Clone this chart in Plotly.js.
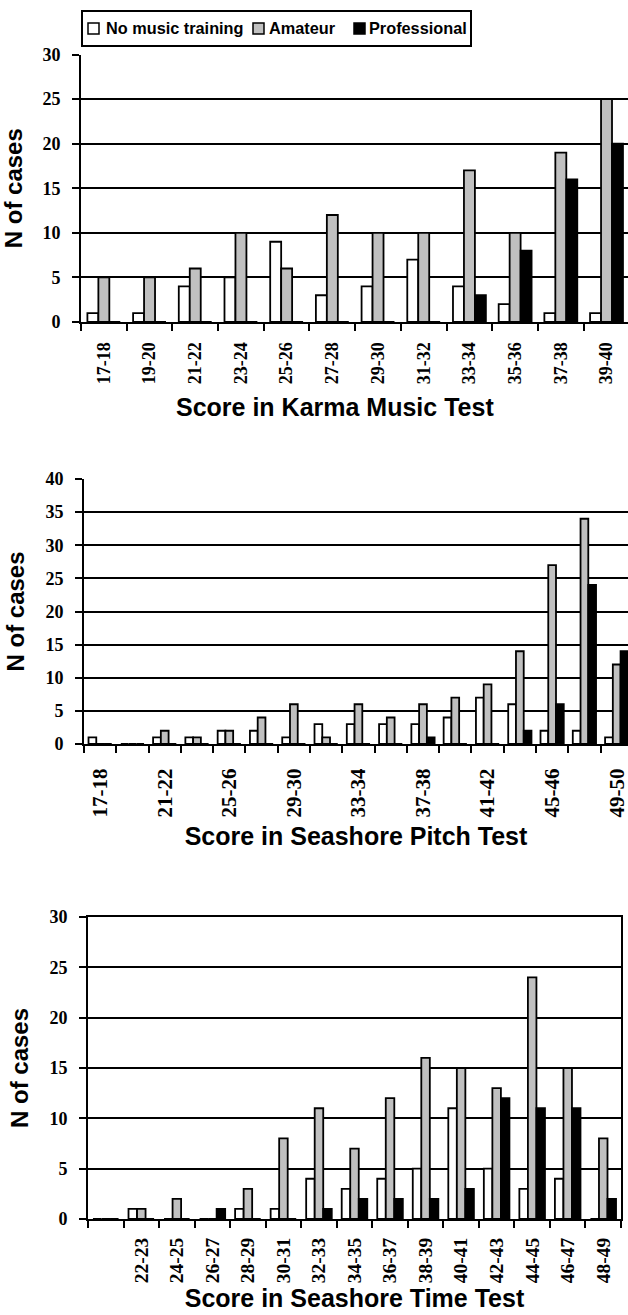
<!DOCTYPE html>
<html>
<head>
<meta charset="utf-8">
<script src="https://cdn.plot.ly/plotly-3.0.1.min.js"></script>
<style>
html,body{margin:0;padding:0;background:#fff;}
#chart{width:628px;height:1315px;}
</style>
</head>
<body>
<div id="chart"></div>
<script>
// ---------- DATA ----------
const seriesNames = ['No music training', 'Amateur', 'Professional'];

const karmaCategories = ['17-18','19-20','21-22','23-24','25-26','27-28','29-30','31-32','33-34','35-36','37-38','39-40'];
const karmaNone     = [1, 1, 4, 5, 9, 3, 4, 7, 4, 2, 1, 1];
const karmaAmateur  = [5, 5, 6, 10, 6, 12, 10, 10, 17, 10, 19, 25];
const karmaPro      = [0, 0, 0, 0, 0, 0, 0, 0, 3, 8, 16, 20];

const pitchCategories = ['17-18','19-20','21-22','23-24','25-26','27-28','29-30','31-32','33-34','35-36','37-38','39-40','41-42','43-44','45-46','47-48','49-50'];
const pitchTickLabels = ['17-18','','21-22','','25-26','','29-30','','33-34','','37-38','','41-42','','45-46','','49-50'];
const pitchNone     = [1, 0, 1, 1, 2, 2, 1, 3, 3, 3, 3, 4, 7, 6, 2, 2, 1];
const pitchAmateur  = [0, 0, 2, 1, 2, 4, 6, 1, 6, 4, 6, 7, 9, 14, 27, 34, 12];
const pitchPro      = [0, 0, 0, 0, 0, 0, 0, 0, 0, 0, 1, 0, 0, 2, 6, 24, 14];

const timeCategories = [' ','22-23','24-25','26-27','28-29','30-31','32-33','34-35','36-37','38-39','40-41','42-43','44-45','46-47','48-49'];
const timeNone      = [0, 1, 0, 0, 1, 1, 4, 3, 4, 5, 11, 5, 3, 4, 0];
const timeAmateur   = [0, 1, 2, 0, 3, 8, 11, 7, 12, 16, 15, 13, 24, 15, 8];
const timePro       = [0, 0, 0, 1, 0, 0, 1, 2, 2, 2, 3, 12, 11, 11, 2];

const axisTitles = {
  karma: 'Score in Karma Music Test',
  pitch: 'Score in Seashore Pitch Test',
  time: 'Score in Seashore Time Test',
  y: 'N of cases'
};

// ---------- STYLE ----------
const colors = ['#ffffff', '#c0c0c0', '#000000'];
const serif = 'Liberation Serif, Times New Roman, serif';
const sans = 'Liberation Sans, Arial, sans-serif';

function barTraces(cats, vals, xa, ya) {
  return vals.map((v, i) => ({
    type: 'bar',
    name: seriesNames[i],
    x: cats,
    y: v,
    xaxis: xa,
    yaxis: ya,
    showlegend: false,
    textposition: 'none',
    marker: { color: colors[i], line: { color: '#000', width: 1.8 } },
    hoverinfo: 'none'
  }));
}

const data = [
  ...barTraces(karmaCategories, [karmaNone, karmaAmateur, karmaPro], 'x', 'y'),
  ...barTraces(pitchCategories, [pitchNone, pitchAmateur, pitchPro], 'x2', 'y2'),
  ...barTraces(timeCategories, [timeNone, timeAmateur, timePro], 'x3', 'y3')
];

function xAxis(domain, range, anchor, title, tickSize, labelStandoff, standoff, mirror, extra) {
  return Object.assign({
    domain: domain,
    anchor: anchor,
    type: 'category',
    range: range,
    showgrid: false,
    showline: true,
    linecolor: '#000',
    linewidth: 2,
    mirror: mirror,
    ticks: 'outside',
    tickson: 'boundaries',
    ticklen: 7,
    tickwidth: 2,
    tickcolor: '#000',
    tickangle: -90,
    ticklabelstandoff: labelStandoff,
    tickfont: { family: serif, size: tickSize, weight: 'bold', color: '#000' },
    title: { text: title, standoff: standoff, font: { family: sans, size: 25, weight: 'bold', color: '#000' } },
    automargin: false,
    fixedrange: true
  }, extra || {});
}

function yAxis(domain, range, anchor, tickSize, mirror) {
  return {
    domain: domain,
    anchor: anchor,
    range: range,
    dtick: 5,
    tick0: 0,
    showgrid: true,
    gridcolor: '#000',
    gridwidth: 2,
    zeroline: false,
    showline: true,
    linecolor: '#000',
    linewidth: 2,
    mirror: mirror,
    ticks: 'outside',
    ticklen: 7,
    tickwidth: 2,
    tickcolor: '#000',
    ticklabelstandoff: 8,
    tickfont: { family: serif, size: tickSize, weight: 'bold', color: '#000' },
    title: { text: axisTitles.y, standoff: 14, font: { family: sans, size: 24, weight: 'bold', color: '#000' } },
    automargin: false,
    fixedrange: true
  };
}

const H = 1315, W = 628;
const py = v => 1 - v / H;
const px = v => v / W;

// Legend (drawn as a boxed key like the original)
const legendBox = { x0: 82, x1: 471, y0: 11, y1: 46 };
const legendSwatchX = [88, 253, 354];
const legendTextX = [105, 268, 368];
const legendMidY = 28.5;

const shapes = [
  { type: 'rect', xref: 'paper', yref: 'paper',
    x0: px(legendBox.x0), x1: px(legendBox.x1), y0: py(legendBox.y1), y1: py(legendBox.y0),
    line: { color: '#000', width: 2 }, fillcolor: '#fff', layer: 'above' }
];
const annotations = [];
seriesNames.forEach((name, i) => {
  shapes.push({ type: 'rect', xref: 'paper', yref: 'paper',
    x0: px(legendSwatchX[i]), x1: px(legendSwatchX[i] + 11),
    y0: py(legendMidY + 5.5), y1: py(legendMidY - 5.5),
    line: { color: '#000', width: 1.5 }, fillcolor: colors[i], layer: 'above' });
  annotations.push({ xref: 'paper', yref: 'paper', x: px(legendTextX[i]), y: py(legendMidY),
    xanchor: 'left', yanchor: 'middle', showarrow: false, text: name, borderpad: 0,
    font: { family: sans, size: 16.3, weight: 'bold', color: '#000' } });
});
// title of the first chart (sits slightly left of the plot centre in the original)
annotations.push({ xref: 'paper', yref: 'paper', x: px(335), y: py(407),
  xanchor: 'center', yanchor: 'middle', showarrow: false, text: axisTitles.karma,
  font: { family: sans, size: 25, weight: 'bold', color: '#000' } });

const layout = {
  width: W,
  height: H,
  margin: { l: 0, r: 0, t: 0, b: 0 },
  paper_bgcolor: '#fff',
  plot_bgcolor: '#fff',
  barmode: 'group',
  bargap: 0.28,
  bargroupgap: 0,
  showlegend: false,
  shapes: shapes,
  annotations: annotations,
  xaxis: xAxis([px(81), 1], [-0.5, 11.47], 'y', '', 18, 11, 13, false),
  yaxis: yAxis([py(322), py(54.5)], [0, 30], 'x', 18, false),
  xaxis2: xAxis([px(84), 1], [-0.5, 16.35], 'y2', axisTitles.pitch, 21, 14, 11, false,
    { tickmode: 'array', tickvals: pitchCategories, ticktext: pitchTickLabels }),
  yaxis2: yAxis([py(744), py(479)], [0, 40], 'x2', 18, false),
  xaxis3: xAxis([px(88), px(621)], [-0.5, 14.5], 'y3', axisTitles.time, 19.5, 9, 7, true),
  yaxis3: yAxis([py(1219), py(917)], [0, 30], 'x3', 18, true)
};

Plotly.newPlot('chart', data, layout, { displayModeBar: false, staticPlot: true });
</script>
</body>
</html>
